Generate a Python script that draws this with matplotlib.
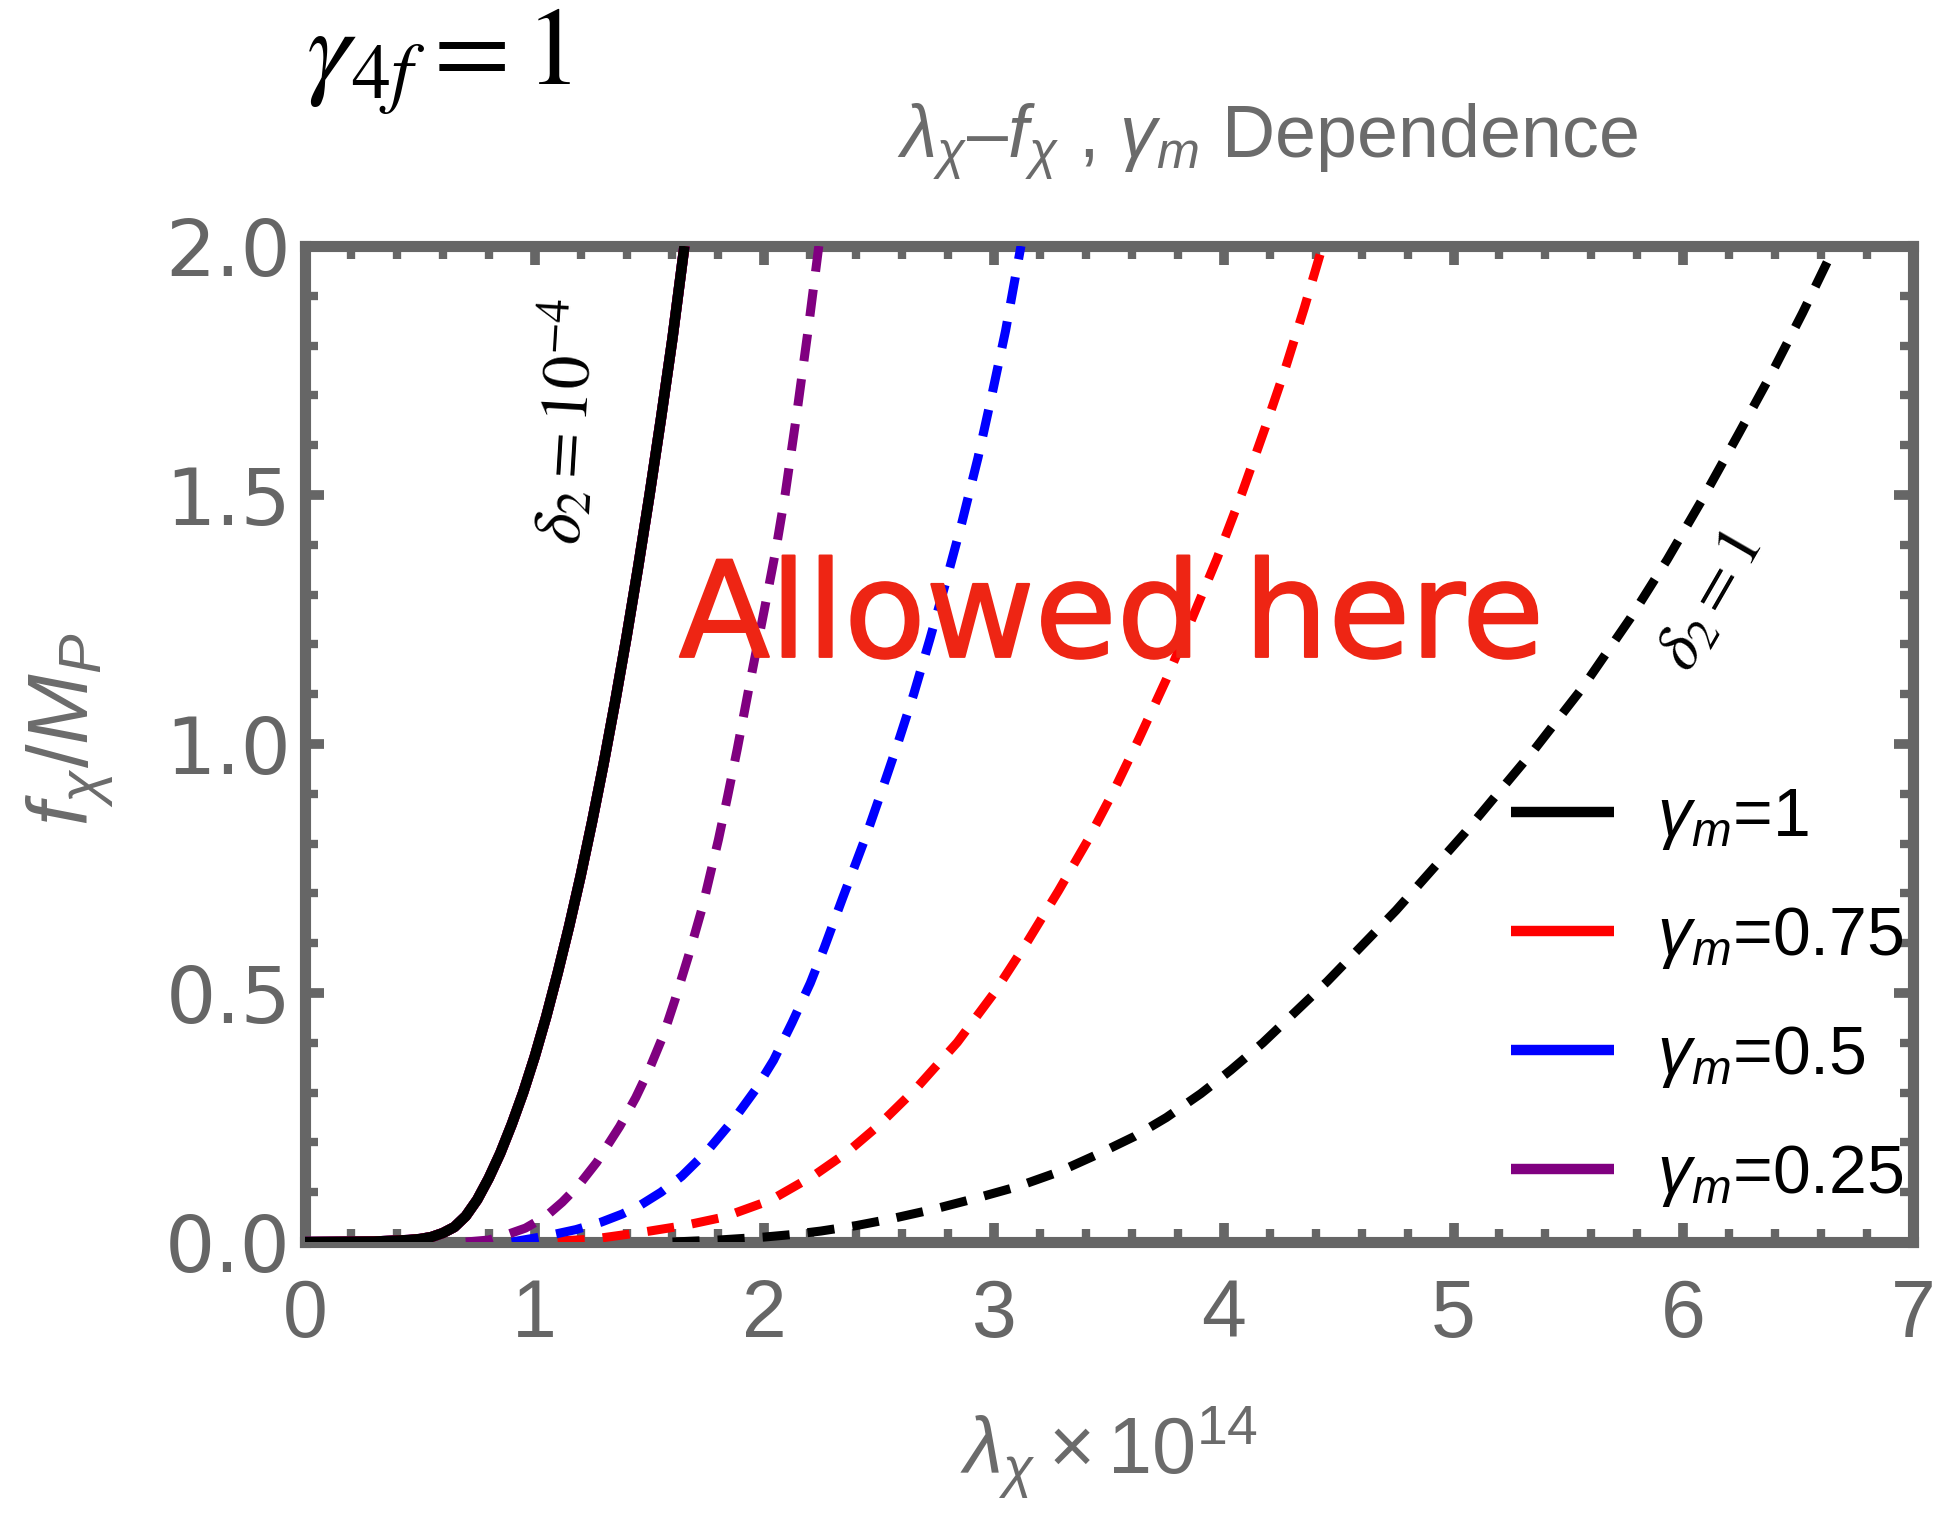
import matplotlib
matplotlib.use("Agg")
import matplotlib.pyplot as plt
import matplotlib.patheffects as pe
from matplotlib.ticker import MultipleLocator

plt.rcParams.update({
    "font.family": ["Liberation Sans", "DejaVu Sans"],
    "mathtext.fontset": "custom",
    "mathtext.rm": "Liberation Sans",
    "mathtext.it": "Liberation Sans:italic",
    "mathtext.bf": "Liberation Sans:bold",
})

# ---- data: lambda_chi (x 1e14) vs f_chi / M_P ----
# delta_2 = 1e-4 : identical for every gamma_m (solid)
lam_d2_small = [0.00, 0.30, 0.45, 0.50, 0.55, 0.60, 0.65, 0.70, 0.75, 0.80, 0.85,
                0.90, 0.95, 1.00, 1.05, 1.10, 1.15, 1.20, 1.25, 1.30, 1.35, 1.40,
                1.45, 1.50, 1.55, 1.60, 1.652]
f_d2_small = [0.000, 0.001, 0.004, 0.006, 0.010, 0.018, 0.030, 0.052, 0.085, 0.128,
              0.178, 0.236, 0.300, 0.372, 0.452, 0.540, 0.634, 0.735, 0.844, 0.960,
              1.084, 1.215, 1.354, 1.500, 1.654, 1.815, 2.000]

# delta_2 = 1 : one dashed curve per gamma_m
lam_gm025 = [0.70, 0.80, 0.88, 0.96, 1.05, 1.12, 1.19, 1.27, 1.37, 1.44, 1.50,
             1.56, 1.61, 1.67, 1.73, 1.80, 1.84, 1.882, 1.94, 2.00, 2.05, 2.09,
             2.14, 2.19, 2.237]
f_gm025 = [0.000, 0.004, 0.015, 0.028, 0.052, 0.080, 0.113, 0.160, 0.232, 0.290,
           0.348, 0.415, 0.485, 0.575, 0.672, 0.808, 0.895, 0.990, 1.130, 1.270,
           1.390, 1.500, 1.660, 1.830, 2.000]

lam_gm05 = [0.90, 1.00, 1.08, 1.18, 1.29, 1.38, 1.46, 1.55, 1.64, 1.75, 1.87,
            1.96, 2.04, 2.12, 2.20, 2.26, 2.34, 2.44, 2.51, 2.58, 2.65, 2.72,
            2.79, 2.86, 2.93, 2.99, 3.05, 3.117]
f_gm05 = [0.000, 0.008, 0.015, 0.025, 0.040, 0.056, 0.074, 0.100, 0.132, 0.182,
          0.248, 0.305, 0.365, 0.440, 0.520, 0.590, 0.690, 0.812, 0.905, 1.000,
          1.100, 1.210, 1.325, 1.445, 1.575, 1.700, 1.830, 2.000]

lam_gm075 = [1.10, 1.256, 1.474, 1.65, 1.823, 2.027, 2.22, 2.36, 2.492, 2.66,
             2.84, 3.00, 3.145, 3.28, 3.407, 3.52, 3.63, 3.75, 3.86, 3.97, 4.08,
             4.18, 4.265, 4.35, 4.43]
f_gm075 = [0.002, 0.006, 0.020, 0.033, 0.050, 0.084, 0.135, 0.180, 0.232, 0.308,
           0.401, 0.500, 0.603, 0.705, 0.806, 0.905, 1.010, 1.130, 1.250, 1.372,
           1.505, 1.635, 1.750, 1.875, 2.000]

lam_gm1 = [1.60, 1.80, 2.00, 2.12, 2.245, 2.40, 2.536, 2.73, 2.914, 3.10, 3.277,
           3.45, 3.611, 3.75, 3.90, 4.03, 4.17, 4.45, 4.75, 5.05, 5.354, 5.56,
           5.769, 5.93, 6.079, 6.24, 6.389, 6.52, 6.65]
f_gm1 = [0.000, 0.004, 0.010, 0.015, 0.022, 0.033, 0.045, 0.065, 0.087, 0.111,
         0.140, 0.176, 0.212, 0.250, 0.298, 0.345, 0.400, 0.523, 0.666, 0.822,
         0.990, 1.112, 1.252, 1.370, 1.488, 1.622, 1.748, 1.866, 1.990]

gamma_labels = ["1", "0.75", "0.5", "0.25"]
colors = {"1": "black", "0.75": "#ff0000", "0.5": "#0000ff", "0.25": "#800080"}
dashed = {"1": (lam_gm1, f_gm1), "0.75": (lam_gm075, f_gm075),
          "0.5": (lam_gm05, f_gm05), "0.25": (lam_gm025, f_gm025)}

GRAY = "#666666"
TXT_GRAY = "#6b6b6b"

fig = plt.figure(figsize=(19.35, 15.13), dpi=100)
ax = fig.add_axes([0.1576, 0.1791, 0.8310, 0.6583])

# solid delta_2 = 1e-4 lines (drawn so that black ends up on top)
solid = {}
for g in ["0.25", "0.5", "0.75", "1"]:
    solid[g], = ax.plot(lam_d2_small, f_d2_small, color=colors[g], lw=7.5,
                        solid_capstyle="butt", solid_joinstyle="round", zorder=3)

# dashed delta_2 = 1 lines
for g in gamma_labels:
    x, y = dashed[g]
    ax.plot(x, y, color=colors[g], lw=6.5, dashes=(3.0, 2.0),
            dash_joinstyle="round", zorder=3)

ax.set_xlim(0, 7)
ax.set_ylim(0, 2)
ax.xaxis.set_major_locator(MultipleLocator(1))
ax.xaxis.set_minor_locator(MultipleLocator(0.2))
ax.yaxis.set_major_locator(MultipleLocator(0.5))
ax.yaxis.set_minor_locator(MultipleLocator(0.1))
ax.set_axisbelow(False)

for s in ax.spines.values():
    s.set_color(GRAY)
    s.set_linewidth(8)

ax.tick_params(which="both", direction="in", top=True, right=True,
               color=GRAY, labelcolor=GRAY)
ax.tick_params(which="major", length=14, width=7)
ax.tick_params(which="minor", length=9.5, width=6)
ax.tick_params(axis="x", which="major", labelsize=58, pad=26)
ax.tick_params(axis="y", which="major", labelsize=57, pad=10)
for lbl in ax.get_yticklabels():
    lbl.set_fontfamily("DejaVu Sans")

ax.set_xlabel(r"$\lambda_\chi\times10^{14}$", fontsize=57, color=TXT_GRAY)
ax.xaxis.set_label_coords(0.5, -0.163)
ax.set_ylabel(r"$f_\chi/M_P$", fontsize=61, color=TXT_GRAY)
ax.yaxis.set_label_coords(-0.118, 0.515)

fig.text(0.655, 0.8956,
         r"$\lambda_\chi$" + "\u2013" + r"$f_\chi$" + " , " + r"$\gamma_m$" + " Dependence",
         ha="center", va="baseline", fontsize=53, color=TXT_GRAY)

fig.text(0.158, 0.9445, r"$\gamma_{4f}=1$", fontsize=80, math_fontfamily="stix",
         ha="left", va="baseline", color="black")

ax.text(1.132, 1.647, r"$\delta_2 = 10^{-4}$", fontsize=48, math_fontfamily="stix",
        rotation=86.5, ha="center", va="center", color="black")
ax.text(6.121, 1.287, r"$\delta_2 = 1$", fontsize=47, math_fontfamily="stix",
        rotation=60, ha="center", va="center", color="black")

red_txt = "#ee2514"
ax.text(3.513, 1.175, "Allowed here", fontsize=96, family="DejaVu Sans",
        ha="center", va="baseline", color=red_txt, zorder=4,
        path_effects=[pe.withStroke(linewidth=1.5, foreground=red_txt,
                                    capstyle="round", joinstyle="round")])

ax.legend(handles=[solid[g] for g in gamma_labels],
          labels=[r"$\gamma_m$=" + g for g in gamma_labels],
          loc="upper left", bbox_to_anchor=(0.750, 0.458), frameon=False,
          fontsize=49, handlelength=1.51, handletextpad=0.63, labelspacing=0.78,
          borderpad=0, borderaxespad=0)

fig.savefig("out.png", dpi=100)
